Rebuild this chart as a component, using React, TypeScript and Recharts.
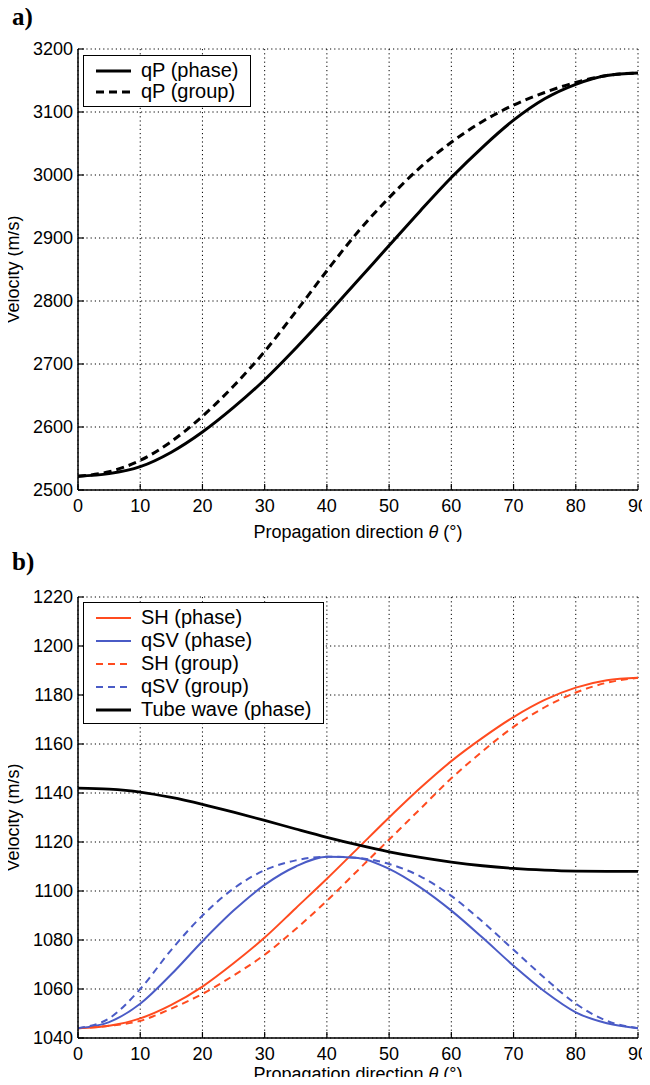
import React from 'react';
import { LineChart, Line, XAxis, YAxis, CartesianGrid, Legend } from 'recharts';

// propagation direction, degrees
const theta = [0, 5, 10, 15, 20, 25, 30, 35, 40, 45, 50, 55, 60, 65, 70, 75, 80, 85, 90];

// panel a) qP velocities (m/s)
const qpPhase = [2522, 2526, 2537, 2560, 2592, 2631, 2675, 2725, 2778, 2833, 2888, 2943, 2996, 3044, 3087, 3121, 3144, 3158, 3162];
const qpGroup = [2522, 2529, 2547, 2577, 2617, 2665, 2720, 2783, 2848, 2910, 2964, 3012, 3052, 3085, 3111, 3131, 3147, 3158, 3162];

// panel b) shear + tube wave velocities (m/s)
const shPhase = [1044, 1045, 1048, 1053.5, 1061, 1070.5, 1081, 1093, 1105, 1117.5, 1130, 1142, 1153, 1162.5, 1171, 1178, 1183, 1186, 1187];
const qsvPhase = [1044, 1046.5, 1054, 1066, 1079.5, 1092, 1102.5, 1110, 1114, 1113.5, 1109, 1101.5, 1092, 1081, 1069.5, 1059, 1050.5, 1046, 1044];
const shGroup = [1044, 1045, 1047, 1052, 1058, 1065.5, 1074, 1084.5, 1096, 1108.5, 1121, 1133.5, 1146, 1157, 1167, 1175, 1181, 1185, 1187];
const qsvGroup = [1044, 1048, 1060, 1076, 1090, 1101, 1108.5, 1112.5, 1114, 1113.5, 1111, 1106, 1098, 1087.5, 1076, 1064.5, 1054, 1047, 1044];
const tubePhase = [1142, 1141.6, 1140.4, 1138.2, 1135.4, 1132.2, 1128.8, 1125.3, 1121.9, 1118.8, 1116, 1113.7, 1111.8, 1110.3, 1109.2, 1108.5, 1108.1, 1108, 1108];

const xTicks = [0, 10, 20, 30, 40, 50, 60, 70, 80, 90];
const topTicks = [2500, 2600, 2700, 2800, 2900, 3000, 3100, 3200];
const bottomTicks = [1040, 1060, 1080, 1100, 1120, 1140, 1160, 1180, 1200, 1220];

const FONT = '"Liberation Sans", Arial, Helvetica, sans-serif';
const RED = '#ff4b1f';
const BLUE = '#4a5bc6';

const topData = theta.map((t, i) => ({ theta: t, qpPhase: qpPhase[i], qpGroup: qpGroup[i] }));
const bottomData = theta.map((t, i) => ({
  theta: t,
  shPhase: shPhase[i],
  qsvPhase: qsvPhase[i],
  shGroup: shGroup[i],
  qsvGroup: qsvGroup[i],
  tubePhase: tubePhase[i],
}));

type Series = { key: string; name: string; color: string; width: number; dash?: string };

const topSeries: Series[] = [
  { key: 'qpPhase', name: 'qP (phase)', color: '#000', width: 3 },
  { key: 'qpGroup', name: 'qP (group)', color: '#000', width: 3, dash: '8 5' },
];

const bottomSeries: Series[] = [
  { key: 'shPhase', name: 'SH (phase)', color: RED, width: 2 },
  { key: 'qsvPhase', name: 'qSV (phase)', color: BLUE, width: 2 },
  { key: 'shGroup', name: 'SH (group)', color: RED, width: 2, dash: '7 5' },
  { key: 'qsvGroup', name: 'qSV (group)', color: BLUE, width: 2, dash: '7 5' },
  { key: 'tubePhase', name: 'Tube wave (phase)', color: '#000', width: 2.8 },
];

function LegendBox({ items, rowH, padTop, padBottom }: { items: Series[]; rowH: number; padTop: number; padBottom: number }) {
  return (
    <div
      style={{
        border: '1.5px solid #000',
        background: '#fff',
        padding: `${padTop}px 12px ${padBottom}px 0`,
        fontFamily: FONT,
        fontSize: 20,
        color: '#000',
        whiteSpace: 'nowrap',
      }}
    >
      {items.map((s) => (
        <div key={s.key} style={{ display: 'flex', alignItems: 'center', height: rowH }}>
          <svg width={47} height={10} style={{ display: 'block' }}>
            <line x1={12} x2={47} y1={5} y2={5} stroke={s.color} strokeWidth={s.width} strokeDasharray={s.dash} />
          </svg>
          <span style={{ marginLeft: 10, lineHeight: `${rowH}px` }}>{s.name}</span>
        </div>
      ))}
    </div>
  );
}

const xTitle = (offset: number) => (props: any) => {
  const vb = props.viewBox || {};
  return (
    <text
      x={vb.x + vb.width / 2}
      y={vb.y + offset}
      textAnchor="middle"
      dominantBaseline="central"
      fontFamily={FONT}
      fontSize={18}
      fill="#000"
    >
      Propagation direction <tspan fontStyle="italic">θ</tspan> (°)
    </text>
  );
};

type PanelProps = {
  top: number;
  height: number;
  tag: string;
  data: any[];
  series: Series[];
  domain: [number, number];
  yTicks: number[];
  marginTop: number;
  xHeight: number;
  titleOffset: number;
  legendTop: number;
  rowH: number;
  padTop: number;
  padBottom: number;
};

function Panel(p: PanelProps) {
  const axisLine = { stroke: '#000', strokeWidth: 1.5 };
  const tickLine = { stroke: '#000', strokeWidth: 1.2 };
  const tick = { fill: '#000', fontSize: 18, fontFamily: FONT };
  return (
    <div style={{ position: 'absolute', left: 0, top: p.top, width: 650, height: p.height }}>
      <div
        style={{
          position: 'absolute',
          left: 12,
          top: 3,
          fontFamily: '"Liberation Serif", "Times New Roman", serif',
          fontWeight: 'bold',
          fontSize: 25,
          color: '#000',
          zIndex: 2,
        }}
      >
        {p.tag}
      </div>
      <LineChart width={650} height={p.height} data={p.data} margin={{ top: p.marginTop, right: 12, bottom: 0, left: 0 }}>
        <CartesianGrid stroke="#000" strokeDasharray="1.2 3" strokeWidth={1} />
        <XAxis
          dataKey="theta"
          type="number"
          domain={[0, 90]}
          ticks={xTicks}
          interval={0}
          height={p.xHeight}
          axisLine={axisLine}
          tickLine={tickLine}
          tickSize={-6}
          tickMargin={15}
          tick={tick}
          label={xTitle(p.titleOffset)}
        />
        <XAxis
          xAxisId="top"
          orientation="top"
          dataKey="theta"
          type="number"
          domain={[0, 90]}
          ticks={xTicks}
          interval={0}
          height={0}
          axisLine={axisLine}
          tickLine={tickLine}
          tickSize={-6}
          tick={false}
        />
        <YAxis
          type="number"
          domain={p.domain}
          ticks={p.yTicks}
          interval={0}
          allowDataOverflow
          width={78}
          axisLine={axisLine}
          tickLine={tickLine}
          tickSize={-6}
          tickMargin={11}
          tick={tick}
          label={{
            value: 'Velocity (m/s)',
            angle: -90,
            position: 'center',
            dx: -26,
            fill: '#000',
            fontSize: 18,
            fontFamily: FONT,
          }}
        />
        <YAxis
          yAxisId="right"
          orientation="right"
          type="number"
          domain={p.domain}
          ticks={p.yTicks}
          interval={0}
          allowDataOverflow
          width={0}
          axisLine={axisLine}
          tickLine={tickLine}
          tickSize={-6}
          tick={false}
        />
        {p.series.map((s) => (
          <Line
            key={s.key}
            type="monotone"
            dataKey={s.key}
            name={s.name}
            stroke={s.color}
            strokeWidth={s.width}
            strokeDasharray={s.dash}
            dot={false}
            activeDot={false}
            isAnimationActive={false}
          />
        ))}
        <Legend
          layout="vertical"
          align="center"
          verticalAlign="middle"
          wrapperStyle={{ top: p.legendTop, left: 83, width: 'auto', height: 'auto' }}
          content={() => <LegendBox items={p.series} rowH={p.rowH} padTop={p.padTop} padBottom={p.padBottom} />}
        />
      </LineChart>
    </div>
  );
}

export default function App() {
  return (
    <div style={{ position: 'relative', width: 650, height: 1085, margin: -8, background: '#fff', overflow: 'hidden' }}>
      <Panel
        top={0}
        height={545}
        tag="a)"
        data={topData}
        series={topSeries}
        domain={[2500, 3200]}
        yTicks={topTicks}
        marginTop={49}
        xHeight={55}
        titleOffset={42}
        legendTop={55}
        rowH={21}
        padTop={4}
        padBottom={4}
      />
      <Panel
        top={545}
        height={540}
        tag="b)"
        data={bottomData}
        series={bottomSeries}
        domain={[1040, 1220]}
        yTicks={bottomTicks}
        marginTop={52}
        xHeight={47}
        titleOffset={36}
        legendTop={57}
        rowH={23}
        padTop={3}
        padBottom={2}
      />
    </div>
  );
}
